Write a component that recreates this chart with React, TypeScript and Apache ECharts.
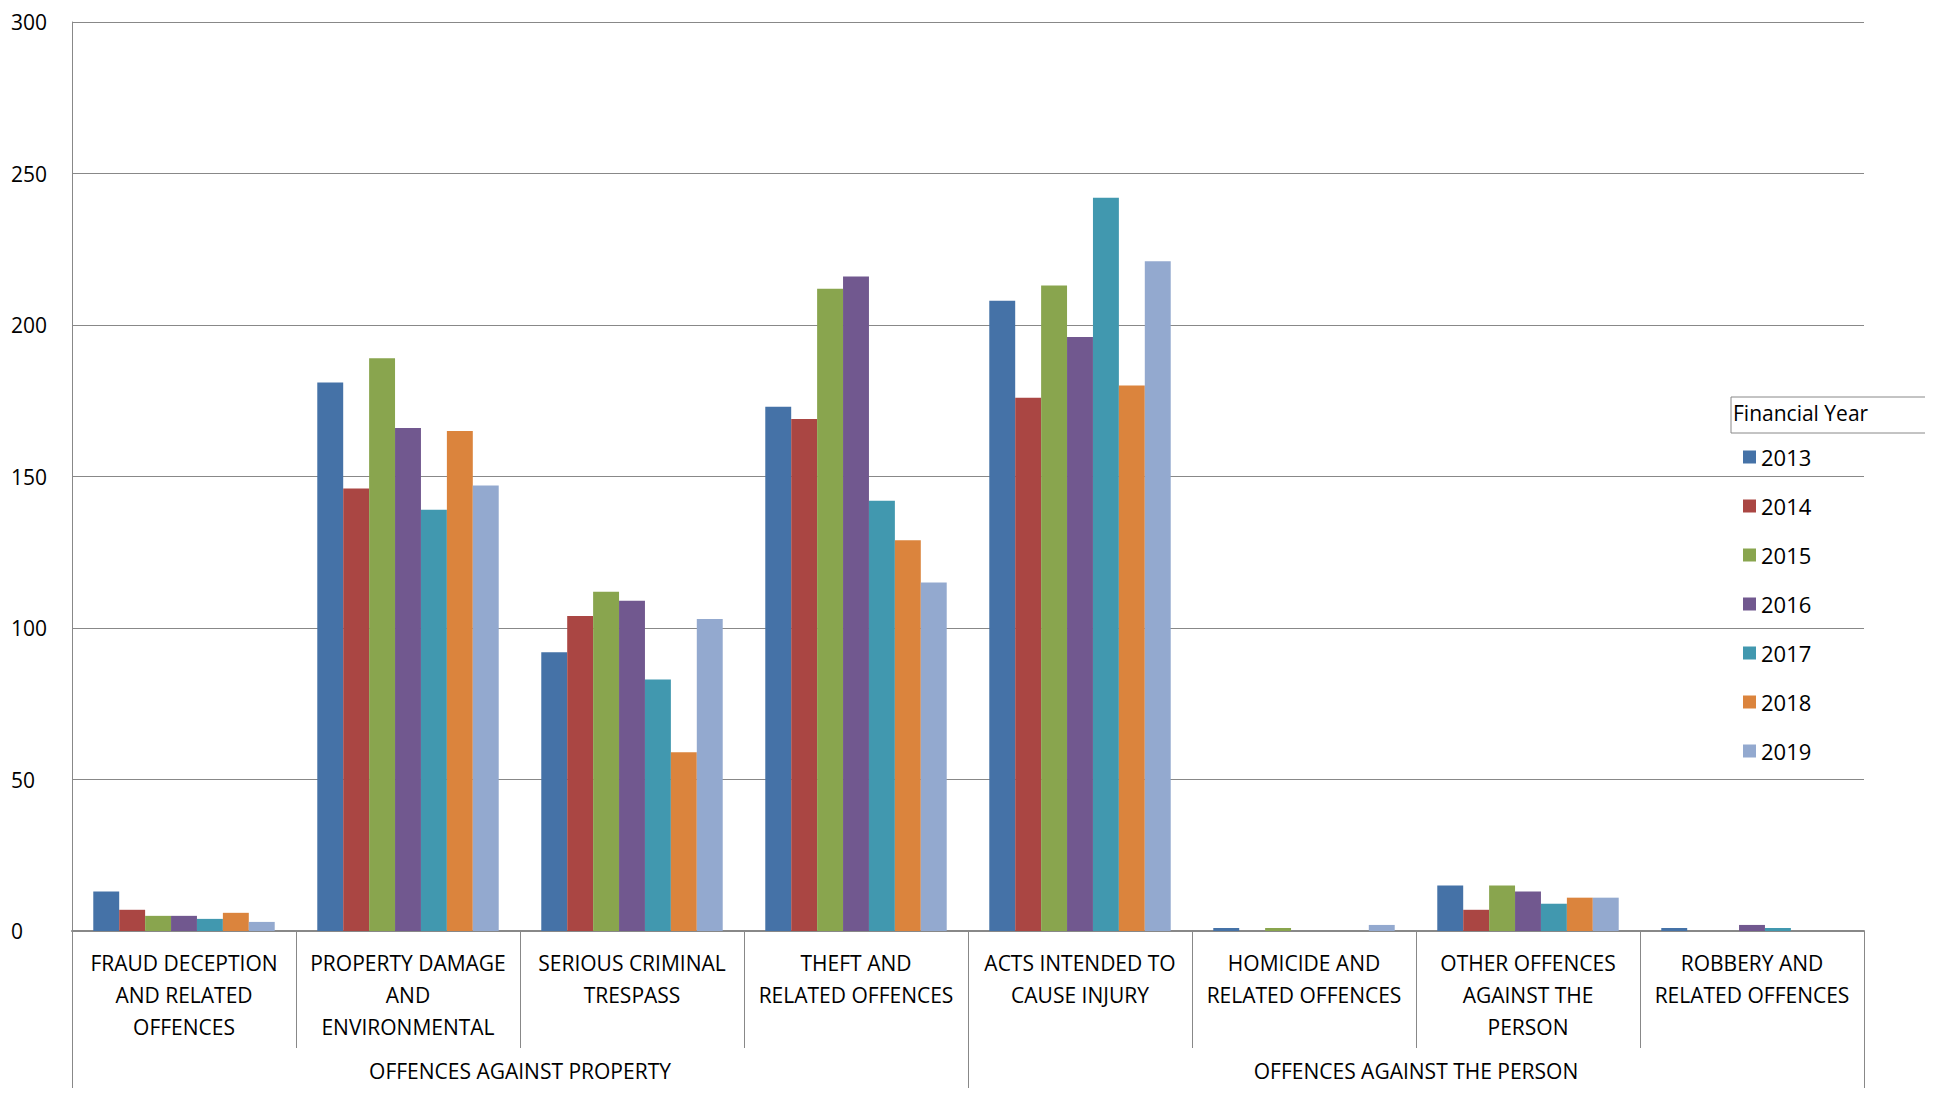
import React, { useEffect, useRef } from 'react';
import * as echarts from 'echarts';

const categories = [
  'FRAUD DECEPTION\nAND RELATED\nOFFENCES',
  'PROPERTY DAMAGE\nAND\nENVIRONMENTAL',
  'SERIOUS CRIMINAL\nTRESPASS',
  'THEFT AND\nRELATED OFFENCES',
  'ACTS INTENDED TO\nCAUSE INJURY',
  'HOMICIDE AND\nRELATED OFFENCES',
  'OTHER OFFENCES\nAGAINST THE\nPERSON',
  'ROBBERY AND\nRELATED OFFENCES',
];
const groups = ['OFFENCES AGAINST PROPERTY', 'OFFENCES AGAINST THE PERSON'];
const years = ['2013', '2014', '2015', '2016', '2017', '2018', '2019'];
const colors = ['#4572A7', '#AA4643', '#89A54E', '#71588F', '#4198AF', '#DB843D', '#93A9CF'];
const v2013 = [13, 181, 92, 173, 208, 1, 15, 1];
const v2014 = [7, 146, 104, 169, 176, 0, 7, 0];
const v2015 = [5, 189, 112, 212, 213, 1, 15, 0];
const v2016 = [5, 166, 109, 216, 196, 0, 13, 2];
const v2017 = [4, 139, 83, 142, 242, 0, 9, 1];
const v2018 = [6, 165, 59, 129, 180, 0, 11, 0];
const v2019 = [3, 147, 103, 115, 221, 2, 11, 0];
const values = [v2013, v2014, v2015, v2016, v2017, v2018, v2019];

const FONT = 'Open Sans';

const App: React.FC = () => {
  const ref = useRef<HTMLDivElement>(null);
  useEffect(() => {
    if (!ref.current) return;
    const chart = echarts.init(ref.current, null, { renderer: 'svg' });
    chart.setOption({
      animation: false,
      textStyle: { fontFamily: FONT },
      grid: { left: 61, right: 61, top: 14, bottom: 157 },
      legend: {
        orient: 'vertical',
        left: 1730,
        top: 433,
        itemWidth: 13,
        itemHeight: 13,
        itemGap: 27,
        icon: 'rect',
        textStyle: { fontSize: 22, color: '#000', fontFamily: FONT },
        data: years,
      },
      graphic: [
        { type: 'rect', shape: { x: 1723, y: 389, width: 210, height: 36 }, style: { fill: '#fff', stroke: '#888', lineWidth: 1 } },
        { type: 'text', x: 1725, y: 394, style: { text: 'Financial Year', fontSize: 21, fontFamily: FONT, fill: '#000' } },
      ],
      xAxis: [
        {
          type: 'category',
          data: categories,
          axisLine: { lineStyle: { color: '#888', width: 2 } },
          axisTick: { show: true, length: 117, lineStyle: { color: '#888', width: 1 } },
          axisLabel: { interval: 0, fontSize: 21, color: '#000', lineHeight: 32, margin: 16 },
        },
        {
          type: 'category',
          data: groups,
          position: 'bottom',
          offset: 117,
          axisLine: { show: true, lineStyle: { color: 'transparent' } },
          axisTick: { show: true, length: 60, lineStyle: { color: '#888', width: 1 } },
          axisLabel: { interval: 0, fontSize: 21, color: '#000', margin: 12 },
        },
      ],
      yAxis: {
        type: 'value',
        min: 0,
        max: 300,
        interval: 50,
        axisLine: { show: true, lineStyle: { color: '#888' } },
        axisTick: { show: false },
        splitLine: { lineStyle: { color: '#888' } },
        axisLabel: { fontSize: 21, color: '#000', align: 'left', margin: 61, verticalAlign: 'middle' },
      },
      series: years.map((y, i) => ({
        name: y,
        type: 'bar',
        xAxisIndex: 0,
        data: values[i],
        barGap: '0%',
        barCategoryGap: '19%',
        itemStyle: { color: colors[i] },
      })),
    });
    return () => chart.dispose();
  }, []);
  return <div ref={ref} style={{ width: 1917, height: 1080 }} />;
};

export default App;
